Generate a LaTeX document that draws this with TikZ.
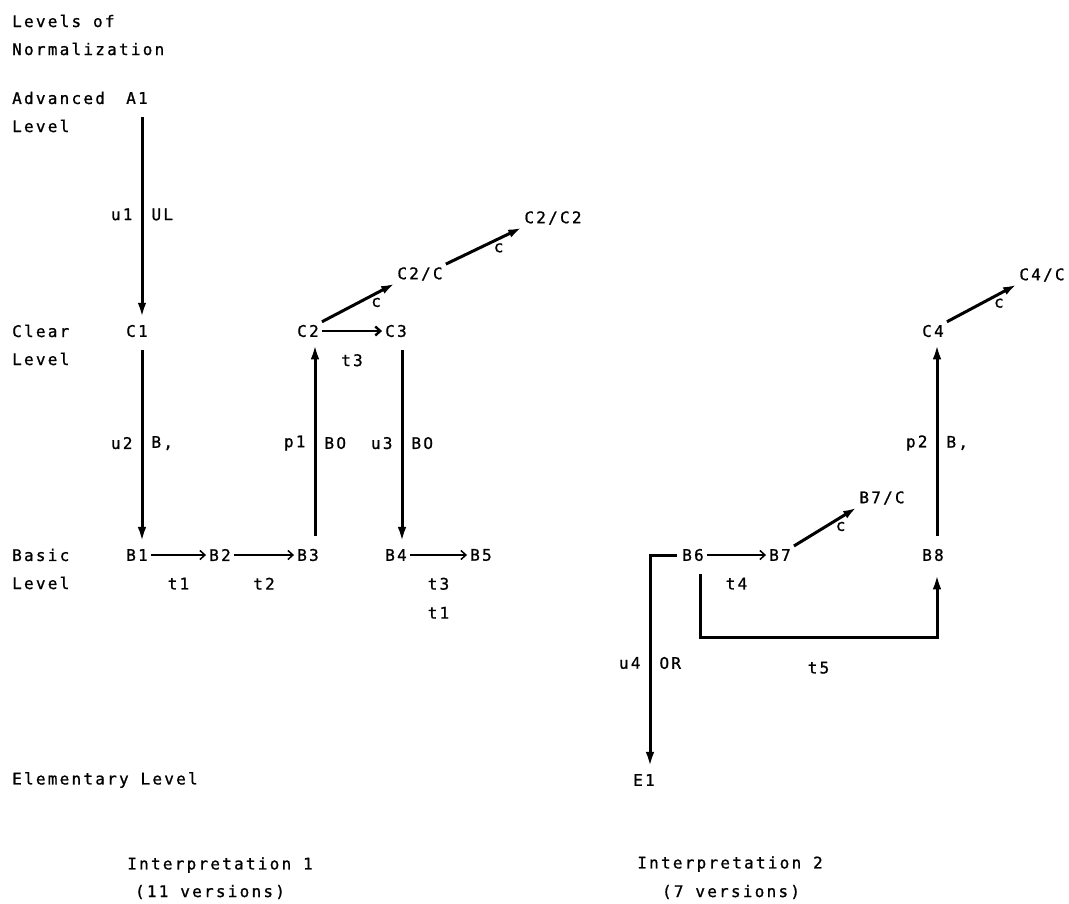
\documentclass[tikz,border=0pt]{standalone}
\usepackage{fontspec}
\setmonofont{DejaVu Sans Mono}[LetterSpace=14, FakeBold=1]
\usetikzlibrary{arrows.meta,positioning}

\begin{document}
\begin{tikzpicture}[
  x=1pt, y=-1pt,
  font=\ttfamily\fontsize{16}{29}\selectfont,
  st/.style={inner sep=3pt},
  lvl/.style={anchor=west, inner sep=0pt},
  lab/.style={inner sep=1pt},
  varr/.style={-{Latex[length=15pt,width=8.5pt]}, line width=3pt, shorten <=10pt, shorten >=4pt},
  harr/.style={-{Straight Barb[length=5pt,width=9pt]}, line width=1.5pt},
  darr/.style={-{Latex[length=13pt,width=8.5pt]}, line width=3pt}
]
  \useasboundingbox (0,0) rectangle (1069,903);

  % levels
  \node[lvl] (lvltop) at (12,21) {Levels of};
  \node[lvl] (lvlnorm) at (12,49) {Normalization};
  \node[lvl] (advname) at (12,98) {Advanced};
  \node[lvl] (advlvl) at (12,126) {Level};
  \node[lvl] (clrname) at (12,331) {Clear};
  \node[lvl] (clrlvl) at (12,359) {Level};
  \node[lvl] (basname) at (12,555) {Basic};
  \node[lvl] (baslvl) at (12,583) {Level};
  \node[lvl] (elemlvl) at (12,780) {Elementary Level};

  % interpretation 1
  \node[st] (A1) at (137,98) {A1};
  \node[st] (C1) at (137,331) {C1};
  \node[st] (B1) at (137,555) {B1};
  \node[st] (B2) at (220,555) {B2};
  \node[st] (B3) at (308,555) {B3};
  \node[st] (C2) at (308,331) {C2};
  \node[st] (C3) at (396,331) {C3};
  \node[st] (C2C) at (420,274) {C2/C};
  \node[st] (C2CC) at (553,218) {C2/C2};
  \node[st] (B4) at (396,555) {B4};
  \node[st] (B5) at (481,555) {B5};

  \draw[varr] ([xshift=5pt]A1.south) -- node[lab,left=7pt]{u1} node[lab,right=7pt]{UL} ([xshift=5pt]C1.north);
  \draw[varr] ([xshift=5pt]C1.south) -- node[lab,left=7pt]{u2} node[lab,right=7pt]{B,} ([xshift=5pt]B1.north);
  \draw[harr] (B1) -- node[lab,below=21pt]{t1} (B2);
  \draw[harr] (B2) -- node[lab,below=21pt]{t2} (B3);
  \draw[varr] ([xshift=7pt]B3.north) -- node[lab,left=7pt]{p1} node[lab,right=7pt]{BO} ([xshift=7pt]C2.south);
  \draw[harr, line width=2.4pt] (C2) -- node[lab,below=21pt]{t3} (C3);
  \draw[darr] (C2.north east) -- node[lab,pos=0.75,below=2pt]{c} (C2C.south west);
  \draw[darr] (C2C.north east) -- node[lab,pos=0.7,below=2pt]{c} (C2CC.south west);
  \draw[varr] ([xshift=6pt]C3.south) -- node[lab,left=7pt]{u3} node[lab,right=7pt]{BO} ([xshift=6pt]B4.north);
  \draw[harr] (B4) -- node[lab,below=21pt,align=center]{t3\\t1} (B5);

  \node (interpA) at (220,865) {Interpretation 1};
  \node (interpAn) at (210,892) {(11 versions)};

  % interpretation 2
  \node[st] (B6) at (693,555) {B6};
  \node[st] (B7) at (780,555) {B7};
  \node[st] (B7C) at (882,498) {B7/C};
  \node[st] (B8) at (933,555) {B8};
  \node[st] (C4) at (933,331) {C4};
  \node[st] (C4C) at (1042,275) {C4/C};
  \node[st] (E1) at (644,780) {E1};

  \draw[harr] (B6) -- node[lab,below=21pt]{t4} (B7);
  \draw[darr] (B7.north east) -- node[lab,pos=0.75,below=2pt]{c} (B7C.south west);
  \draw[varr, shorten <=2pt] (B6.west) -| node[lab,pos=0.75,left=7pt]{u4} node[lab,pos=0.75,right=7pt]{OR} ([xshift=6pt]E1.north);
  \draw[varr, shorten >=10pt] ([xshift=7pt]B6.south) -- ++(0,73) -| node[lab,pos=0.25,below=22pt]{t5} ([xshift=4pt]B8.south);
  \draw[varr] ([xshift=4pt]B8.north) -- node[lab,left=7pt]{p2} node[lab,right=7pt]{B,} ([xshift=4pt]C4.south);
  \draw[darr] (C4.north east) -- node[lab,pos=0.75,below=2pt]{c} (C4C.south west);

  \node (interpB) at (730,864) {Interpretation 2};
  \node (interpBn) at (731,892) {(7 versions)};
\end{tikzpicture}
\end{document}
